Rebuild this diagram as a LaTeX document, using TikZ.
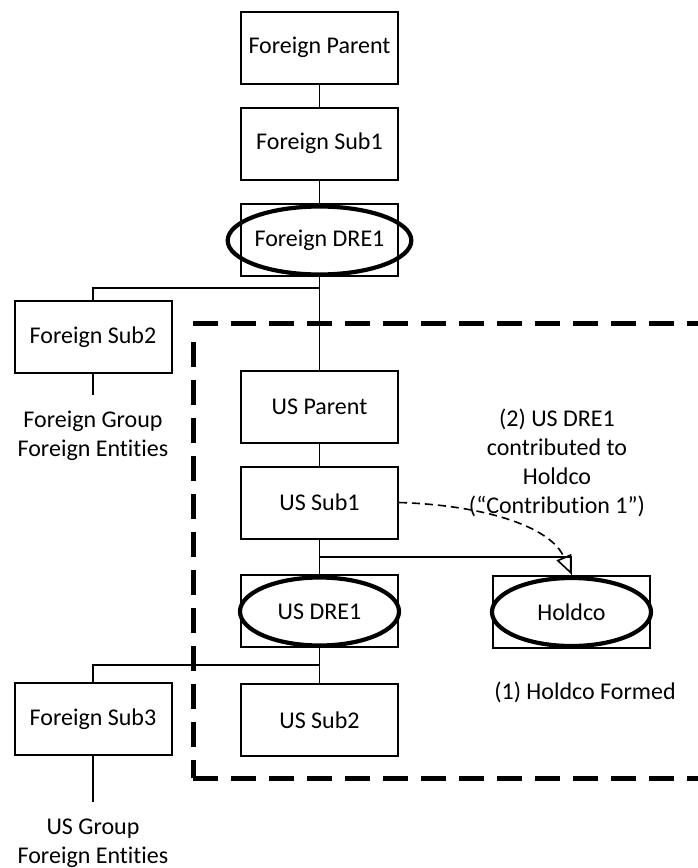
\documentclass[tikz,border=0pt]{standalone}
\usepackage{fontspec}
\setmainfont{Carlito}[Ligatures=NoCommon]
\usetikzlibrary{shapes.geometric,arrows.meta}
\begin{document}
\begin{tikzpicture}[x=1pt,y=-1pt,
  every node/.style={font=\fontsize{24}{29}\selectfont, align=center, inner sep=0pt},
  entity/.style={draw, line width=2pt, minimum width=157pt, minimum height=72pt},
  dre/.style={draw, ellipse, line width=4.2pt, minimum width=159pt, minimum height=68pt},
  link/.style={line width=1.8pt},
  group/.style={line width=5pt, dash pattern=on 25pt off 13pt},
  move/.style={line width=1.6pt, dash pattern=on 8pt off 5pt,
    -{Triangle[open,length=19pt,width=16pt,line width=1.6pt]}}]
\useasboundingbox (0,0) rectangle (697,868);
\fill[white] (0,0) rectangle (697,868);

% US group boundary (runs off the right edge)
\draw[group] (193,323) -- (720,323);
\draw[group] (193,778) -- (720,778);
\draw[group] (193,342) -- (193,778);

% foreign chain
\node[entity] (fp) at (319.5,47.5) {Foreign Parent};
\node[entity] (fs1) at (319.5,143.5) {Foreign Sub1};
\node[entity] (fdre) at (319.5,239.5) {};
\node[dre] (fdreE) at (319.5,240.5) {Foreign DRE1};
\node[entity] (fs2) at (93,337) {Foreign Sub2};
\node (fgrp) at (93,436) {Foreign Group\\Foreign Entities};
\coordinate (fs2end) at (93,395);

% US chain
\node[entity] (usp) at (319.5,407) {US Parent};
\node[entity] (uss1) at (319.5,502.5) {US Sub1};
\node[entity] (usdre) at (319.5,611) {};
\node[dre] (usdreE) at (319.5,611.5) {US DRE1};
\node[entity] (hold) at (571.5,611.5) {};
\node[dre] (holdE) at (571.5,612) {Holdco};
\node[entity] (uss2) at (319.5,720) {US Sub2};
\node[entity] (fs3) at (93,719) {Foreign Sub3};
\node (ugrp) at (93,843) {US Group\\Foreign Entities};
\coordinate (fs3end) at (93,802);

\node (note2) at (557,463) {(2) US DRE1\\contributed to\\Holdco\\(“Contribution 1”)};
\node (note1) at (585,692) {(1) Holdco Formed};

% ownership lines
\draw[link] (fp.south) -- (fs1.north);
\draw[link] (fs1.south) -- (fdre.north);
\draw[link] (fdre.south) -- (usp.north);
\draw[link] (fdre.south |- 0,288) -- (fs2.north |- 0,288) -- (fs2.north);
\draw[link] (fs2.south) -- (fs2end);
\draw[link] (usp.south) -- (uss1.north);
\draw[link] (uss1.south) -- (usdre.north);
\draw[link] (uss1.south |- 0,557) -| (hold.north);
\draw[link] (usdre.south) -- (uss2.north);
\draw[link] (usdre.south |- 0,665) -- (fs3.north |- 0,665) -- (fs3.north);
\draw[link] (fs3.south) -- (fs3end);

% contribution step
\draw[move] (uss1.east) .. controls (480,505) and (550,525) .. (hold.north);
\end{tikzpicture}
\end{document}
